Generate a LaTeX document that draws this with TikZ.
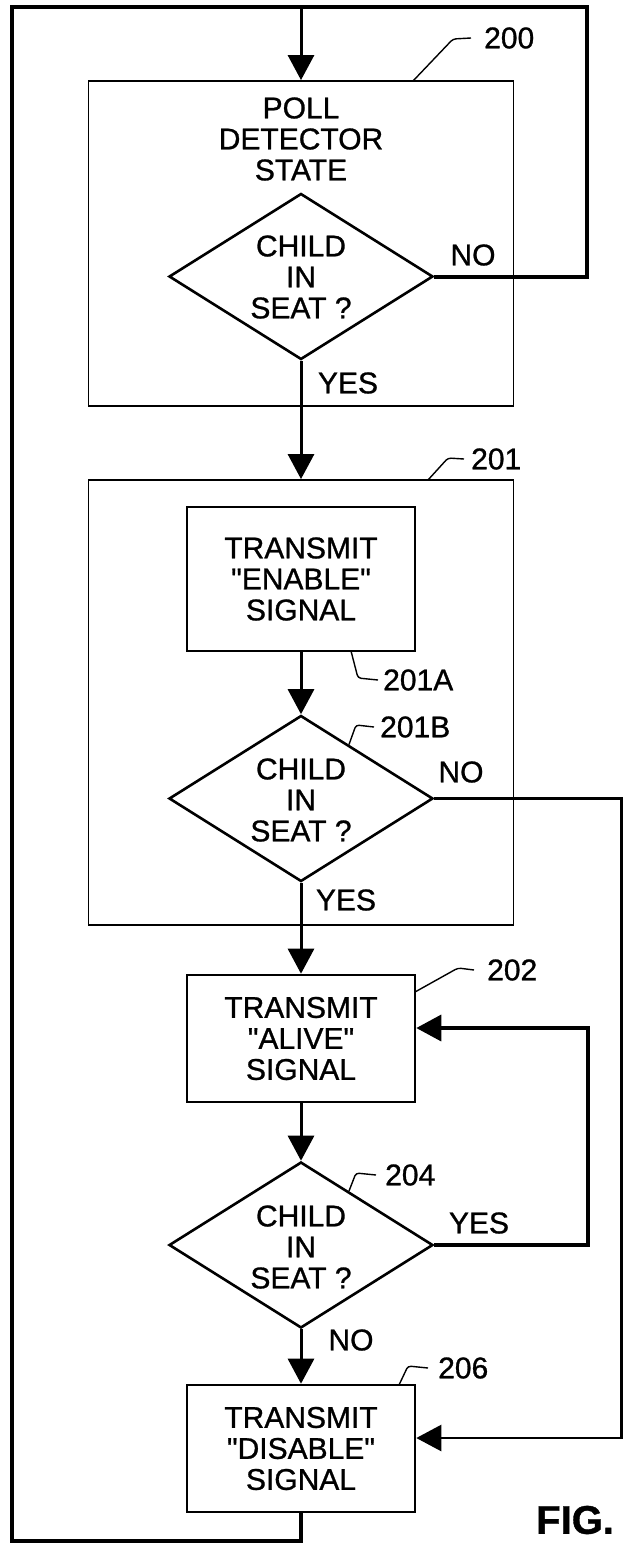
\documentclass[tikz,border=0pt]{standalone}
\usepackage{fontspec}
\setmainfont{Liberation Sans}[Ligatures=TeXOff,FakeBold=0.9]
\usetikzlibrary{shapes.geometric,arrows.meta,calc}
\begin{document}
\begin{tikzpicture}[x=1pt,y=-1pt,
  every node/.style={font=\fontsize{30}{31}\selectfont},
  container/.style={draw,rectangle,line width=1.8pt,inner sep=0pt,minimum width=425pt},
  procbox/.style={draw,rectangle,line width=2.6pt,inner sep=0pt,minimum width=228pt,align=center},
  decision/.style={draw,diamond,line width=2.6pt,inner sep=0pt,minimum width=264pt,minimum height=166pt},
  txt/.style={align=center,inner sep=0pt},
  lbl/.style={inner sep=0pt,anchor=west},
  tag/.style={inner sep=0pt},
  flow/.style={line width=3pt,-{Triangle[length=25pt,width=26pt]}},
  loopline/.style={line width=4pt},
  leader/.style={line width=1.4pt,rounded corners=3pt},
]
\useasboundingbox (0,0) rectangle (622,1545);

% containers
\node[container,minimum height=325pt] (b200) at (301,243.5) {};
\node[container,minimum height=445pt] (b201) at (301,702.5) {};

% process boxes
\node[procbox,minimum height=144pt] (b201A) at (301,579) {TRANSMIT\\"ENABLE"\\SIGNAL};
\node[procbox,minimum height=127pt] (b202) at (301,1038.5) {TRANSMIT\\"ALIVE"\\SIGNAL};
\node[procbox,minimum height=127pt] (b206) at (301,1448.5) {TRANSMIT\\"DISABLE"\\SIGNAL};

% poll text
\node[txt] (t200) at (301,139) {POLL\\DETECTOR\\STATE};

% decisions
\node[decision] (d200) at (301,276.5) {};
\node[txt] (q200) at (301,277) {CHILD\\IN\\SEAT ?};
\node[decision] (d201B) at (301,798.5) {};
\node[txt] (q201B) at (301,800) {CHILD\\IN\\SEAT ?};
\node[decision] (d204) at (301,1245) {};
\node[txt] (q204) at (301,1247) {CHILD\\IN\\SEAT ?};

% loop corners
\coordinate (lt) at (12,7);
\coordinate (lb) at (12,1541);
\coordinate (rt) at (587,7);
\coordinate (yr) at (588,1028);
\coordinate (nr) at (621.5,1438);

% outer loop and NO loop of 200
\draw[loopline] (b206.south) -- (b206.south |- lb) -- (lb) -- (lt) -- (rt) -- (rt |- d200.east) -- (d200.east);
\draw[flow] (b200.north |- lt) -- (b200.north);

% main flow
\draw[flow] (d200.south) -- (b201.north);
\draw[flow] (b201A.south) -- (d201B.north);
\draw[flow] (d201B.south) -- (b202.north);
\draw[flow] (b202.south) -- (d204.north);
\draw[flow] (d204.south) -- (b206.north);

% YES loop of 204
\draw[flow,line width=3.5pt] (d204.east) -- (d204.east -| yr) -- (yr) -- (yr -| b202.east);
% NO branch of 201B
\draw[flow,line width=2.5pt] (d201B.east) -- (d201B.east -| nr) -- (nr) -- (nr -| b206.east);

% branch labels
\node[tag] (no200) at (473,255) {NO};
\node[tag] (yes200) at (348,383) {YES};
\node[tag] (no201B) at (461,772) {NO};
\node[tag] (yes201B) at (346,900) {YES};
\node[tag] (yes204) at (479,1223) {YES};
\node[tag] (no204) at (351,1340) {NO};

% reference numerals
\node[lbl] (l200) at (484,38) {200};
\node[lbl] (l201) at (471,459) {201};
\node[lbl] (l201A) at (383,680) {201A};
\node[lbl] (l201B) at (380,727) {201B};
\node[lbl] (l202) at (487,970) {202};
\node[lbl] (l204) at (385,1175) {204};
\node[lbl] (l206) at (438,1368) {206};

\coordinate (s200) at (413,81);
\coordinate (s201) at (428,480);
\coordinate (s201A) at (351,651);
\coordinate (s201B) at ($(d201B.north)!0.36!(d201B.east)$);
\coordinate (s202) at (415,992);
\coordinate (s204) at ($(d204.north)!0.36!(d204.east)$);
\coordinate (s206) at (399,1385);

\draw[leader] (s200) -- (453,39) -- ([xshift=-13pt]l200.west);
\draw[leader] (s201) -- (448,458) -- ([xshift=-7pt]l201.west);
\draw[leader] (s201A) -- (358,678) -- ([xshift=-5pt]l201A.west);
\draw[leader] (s201B) -- (356,725) -- ([xshift=-6pt]l201B.west);
\draw[leader] (s202) -- (458,968) -- ([xshift=-13pt]l202.west);
\draw[leader] (s204) -- (356,1173) -- ([xshift=-9pt]l204.west);
\draw[leader] (s206) -- (408,1366) -- ([xshift=-10pt]l206.west);

% figure caption
\node[lbl,font=\fontsize{40}{40}\selectfont\bfseries] (fig) at (536,1520) {FIG.};
\end{tikzpicture}
\end{document}
